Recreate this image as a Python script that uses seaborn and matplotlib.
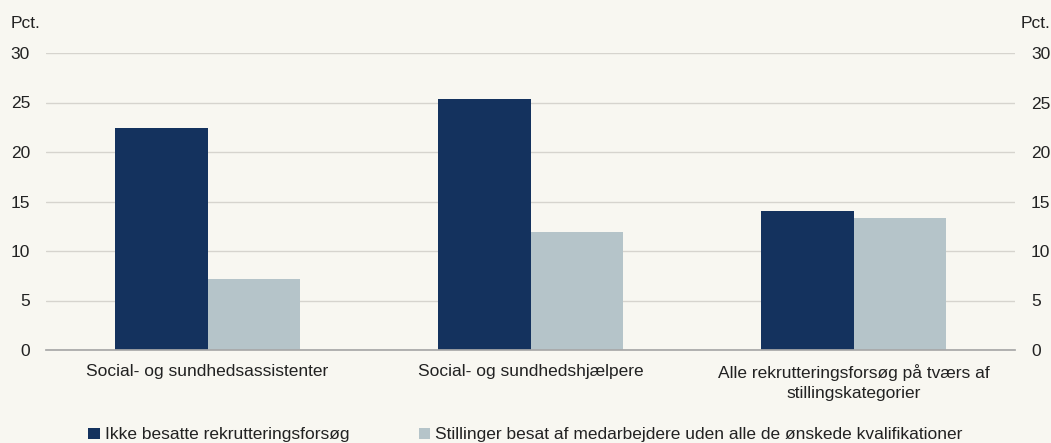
import matplotlib
matplotlib.use("Agg")
import matplotlib.pyplot as plt
import seaborn as sns
import pandas as pd
from matplotlib.patches import Patch
from matplotlib.ticker import FixedLocator

categories = ["Social- og sundhedsassistenter",
              "Social- og sundhedshjælpere",
              "Alle rekrutteringsforsøg på tværs af\nstillingskategorier"]
series_names = ["Ikke besatte rekrutteringsforsøg",
                "Stillinger besat af medarbejdere uden alle de ønskede kvalifikationer"]
ikke_besatte = [22.4, 25.4, 14.0]
uden_kvalif = [7.2, 11.9, 13.3]
y_ticks = [0, 5, 10, 15, 20, 25, 30]

colors = ["#14325E", "#B5C4C9"]
bg = "#F8F7F1"

df = pd.DataFrame({
    "kategori": categories * 2,
    "serie": [series_names[0]] * 3 + [series_names[1]] * 3,
    "pct": ikke_besatte + uden_kvalif,
})

sns.set_theme(style="white")
plt.rcParams["font.family"] = ["Liberation Sans", "DejaVu Sans"]

fig = plt.figure(figsize=(10.51, 4.43), dpi=100, facecolor=bg)
ax = fig.add_axes([46/1051, 1-350/443, (1015-46)/1051, (350-53)/443])
ax.set_facecolor(bg)

sns.barplot(data=df, x="kategori", y="pct", hue="serie", palette=colors,
            hue_order=series_names, order=categories, width=0.573,
            saturation=1, ax=ax, legend=False, edgecolor="none", linewidth=0)

ax.set_xlim(-0.5, 2.5)
ax.set_ylim(0, 30)
ax.set_yticks(y_ticks)
ax.set_yticklabels([str(t) for t in y_ticks], fontsize=12.5, color="#222222")
ax.yaxis.grid(True, color="#D6D4CE", linewidth=1)
ax.set_axisbelow(True)
for s in ["top", "right", "left"]:
    ax.spines[s].set_visible(False)
ax.spines["bottom"].set_color("#A8A8A8")
ax.tick_params(axis="y", length=0, pad=11.5)
ax.set_xlabel("")
ax.set_ylabel("")
ax.set_xticks(range(3))
ax.set_xticklabels(categories, fontsize=12.5, color="#222222", linespacing=1.45)
ax.tick_params(axis="x", length=0, pad=10)
ax.xaxis.set_minor_locator(FixedLocator([-0.5, 0.5, 1.5, 2.5]))
ax.tick_params(axis="x", which="minor", length=5, color="#A8A8A8", direction="out")

ax2 = ax.twinx()
ax2.set_ylim(0, 30)
ax2.set_yticks(y_ticks)
ax2.set_yticklabels([str(t) for t in y_ticks], fontsize=12.5, color="#222222")
ax2.tick_params(axis="y", length=0, pad=11.5)
for s in ["top", "right", "left", "bottom"]:
    ax2.spines[s].set_visible(False)

fig.text(11/1051, 1-23/443, "Pct.", fontsize=12.5, color="#222222", ha="left", va="center")
fig.text(1050/1051, 1-23/443, "Pct.", fontsize=12.5, color="#222222", ha="right", va="center")

handles = [Patch(facecolor=c, edgecolor="none") for c in colors]
fig.legend(handles, series_names, loc="center", bbox_to_anchor=(0.5, 1-435/443),
           ncol=2, frameon=False, fontsize=12.5, handlelength=0.65, handleheight=0.65,
           handletextpad=0.3, columnspacing=4.0, labelcolor="#222222")

fig.savefig("out.png", dpi=100, facecolor=bg)
